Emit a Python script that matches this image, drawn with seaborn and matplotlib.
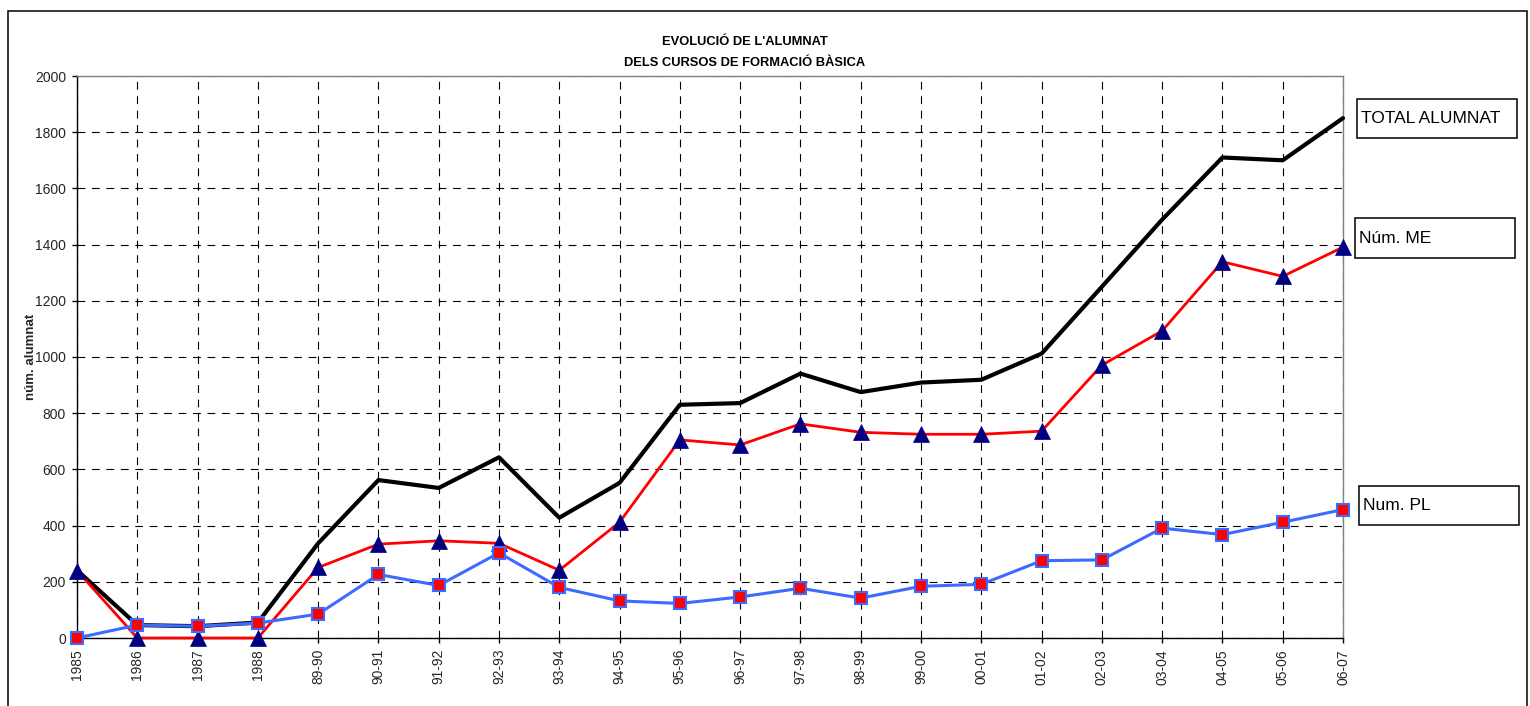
import numpy as np
import pandas as pd
import matplotlib
matplotlib.use("Agg")
import matplotlib.pyplot as plt
from matplotlib.patches import Rectangle
import seaborn as sns

# --- dades llegides del gràfic -------------------------------------------
cursos = ["1985", "1986", "1987", "1988", "89-90", "90-91", "91-92", "92-93",
          "93-94", "94-95", "95-96", "96-97", "97-98", "98-99", "99-00",
          "00-01", "01-02", "02-03", "03-04", "04-05", "05-06", "06-07"]
total_alumnat = [241, 46, 42, 55, 337, 562, 534, 643, 428, 552, 830, 836,
                 941, 875, 909, 919, 1012, 1250, 1489, 1710, 1700, 1850]
num_me = [240, 0, 0, 0, 251, 334, 346, 337, 241, 412, 705, 687,
          762, 732, 725, 725, 736, 971, 1093, 1339, 1287, 1391]
num_pl = [0, 46, 42, 53, 85, 226, 187, 303, 180, 132, 123, 146,
          177, 142, 184, 191, 275, 278, 391, 368, 412, 457]
y_ticks = list(range(0, 2001, 200))

df = pd.DataFrame({"curs": cursos, "total": total_alumnat,
                   "me": num_me, "pl": num_pl})

# --- estil ---------------------------------------------------------------
sns.set_theme(style="white")
plt.rcParams["font.family"] = ["Liberation Sans", "DejaVu Sans"]
plt.rcParams["text.color"] = "black"

W, H = 1530, 706
fig = plt.figure(figsize=(W / 100, H / 100), dpi=100)
fig.patch.set_facecolor("white")

# zona de dibuix (px): x 77-1343, y 76-638
L, R, T, B = 77, 1343, 76, 638
ax = fig.add_axes([L / W, 1 - B / H, (R - L) / W, (B - T) / H])
ax.set_facecolor("white")

NAVY = "#000080"
BLUE = "#3d6bff"

sns.lineplot(data=df, x="curs", y="total", color="black", lw=3.0,
             errorbar=None, sort=False, ax=ax, clip_on=False, zorder=3)
sns.lineplot(data=df, x="curs", y="me", color="#ff0000", lw=2.0,
             marker="^", markersize=11, markerfacecolor=NAVY,
             markeredgecolor=NAVY, markeredgewidth=0.5,
             errorbar=None, sort=False, ax=ax, clip_on=False, zorder=4)
sns.lineplot(data=df, x="curs", y="pl", color=BLUE, lw=2.2,
             marker="s", markersize=9, markerfacecolor="#ff0000",
             markeredgecolor=BLUE, markeredgewidth=1.5,
             errorbar=None, sort=False, ax=ax, clip_on=False, zorder=5)

ax.set_xlim(0, len(cursos) - 1)
ax.set_ylim(0, 2000)
ax.set_yticks(y_ticks)
ax.set_yticklabels([str(v) for v in y_ticks], fontsize=10)
ax.set_xticks(range(len(cursos)))
ax.set_xticklabels(cursos, rotation=90, fontsize=10)
ax.tick_params(axis="y", direction="out", length=3.5, width=1, pad=4.5,
               left=True, color="black")
ax.tick_params(axis="x", direction="out", length=3.6, width=1, pad=4.3,
               bottom=True, color="black")

ax.set_axisbelow(True)
ax.grid(True, color="black", linestyle=(0, (7, 6)), linewidth=0.8)

for side in ("left", "bottom"):
    ax.spines[side].set_color("black")
    ax.spines[side].set_linewidth(1.0)
for side in ("top", "right"):
    ax.spines[side].set_color("#808080")
    ax.spines[side].set_linewidth(1.0)

ax.set_xlabel("")
ax.set_ylabel("núm. alumnat", fontsize=9.5, fontweight="bold")
ax.yaxis.set_label_coords(-(L - 37) / (R - L), 0.5)

# títol
fig.text(745 / W, 1 - 42 / H, "EVOLUCIÓ DE L'ALUMNAT", ha="center",
         va="center", fontsize=9.3, fontweight="bold")
fig.text(745 / W, 1 - 63 / H, "DELS CURSOS DE FORMACIÓ BÀSICA", ha="center",
         va="center", fontsize=9.3, fontweight="bold")

# etiquetes de sèrie en caixes
etiquetes = [("TOTAL ALUMNAT", 1357, 1517, 99, 138),
             ("Núm. ME", 1355, 1515, 218, 258),
             ("Num. PL", 1359, 1519, 486, 525)]
for txt, x0, x1, y0, y1 in etiquetes:
    fig.patches.append(Rectangle((x0 / W, 1 - y1 / H), (x1 - x0) / W,
                                 (y1 - y0) / H, transform=fig.transFigure,
                                 fill=False, edgecolor="black", lw=1.1))
    fig.text((x0 + 4) / W, 1 - (y0 + y1) / 2 / H, txt, ha="left",
             va="center", fontsize=12.5)

# marc exterior
fig.patches.append(Rectangle((8 / W, -0.01), (1527 - 8) / W,
                             1 - 11 / H + 0.01, transform=fig.transFigure,
                             fill=False, edgecolor="black", lw=1.1))

fig.savefig("out.png", dpi=100, facecolor="white")
